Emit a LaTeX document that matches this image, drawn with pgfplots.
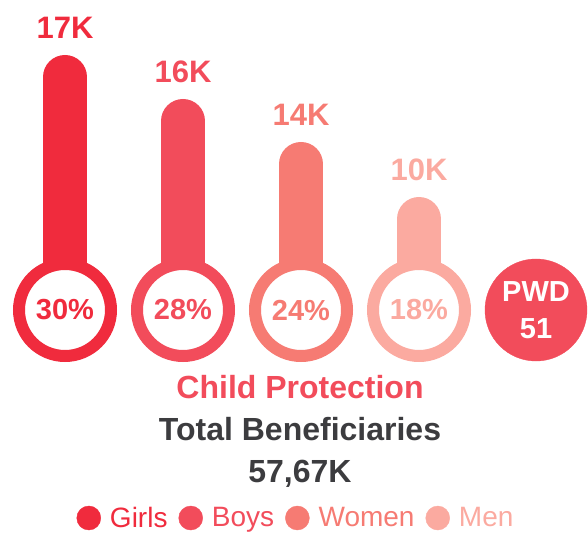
\documentclass[border=0pt]{standalone}
\usepackage{fontspec}
\setmainfont{Liberation Sans}
\usepackage{pgfplots}
\pgfplotsset{compat=1.18}

\definecolor{girls}{HTML}{F02B3D}
\definecolor{boys}{HTML}{F24C5B}
\definecolor{women}{HTML}{F67B73}
\definecolor{men}{HTML}{FBAAA0}
\definecolor{darktext}{HTML}{3C3C3F}

% one unit = 1pt; bar tops are where the picture puts them
% (ring centre y = 226, stem = round-capped thick line)
\pgfplotsset{
  stem/.style={forget plot, line width=44pt, line cap=round, mark=none},
  ring/.style={forget plot, only marks, mark=*, mark size=46pt,
    mark options={line width=12pt},
    scatter/use mapped color={draw=#1, fill=white},
    nodes near coords*={\pgfplotspointmeta\%}, every node near coord/.style={anchor=center,
      font=\fontsize{29}{34}\selectfont\bfseries, text=#1}},
  toplabel/.style={forget plot, only marks, mark=text, text mark={},
    scatter/use mapped color={},
    nodes near coords*={\pgfplotspointmeta K}, every node near coord/.style={anchor=base, yshift=38pt,
      font=\fontsize{31}{36}\selectfont\bfseries, text=#1}},
}

\begin{document}
\begin{tikzpicture}
\begin{axis}[
    hide axis,
    scale only axis,
    width=588pt, height=536pt,
    xmin=0, xmax=588, ymin=0, ymax=536,
    clip=false,
    point meta=explicit symbolic,
    legend columns=4,
    legend style={draw=none, fill=none, at={(axis cs:295,18)}, anchor=center,
      font=\fontsize{28}{32}\selectfont, nodes={inner sep=0pt},
      column sep=9pt, /tikz/every even column/.append style={column sep=11pt}},
]
% Girls 17K, 30%
\addplot[stem, girls] coordinates {(65,226) (65,459)};
\addplot[ring=girls] coordinates {(65,226) [30]};
\addplot[toplabel=girls] coordinates {(65,459) [17]};
% Boys 16K, 28%
\addplot[stem, boys] coordinates {(183,226) (183,415)};
\addplot[ring=boys] coordinates {(183,226) [28]};
\addplot[toplabel=boys] coordinates {(183,415) [16]};
% Women 14K, 24%
\addplot[stem, women] coordinates {(301,226) (301,372)};
\addplot[ring=women] coordinates {(301,226) [24]};
\addplot[toplabel=women] coordinates {(301,372) [14]};
% Men 10K, 18%
\addplot[stem, men] coordinates {(419,226) (419,317)};
\addplot[ring=men] coordinates {(419,226) [18]};
\addplot[toplabel=men] coordinates {(419,317) [10]};
% PWD 51
\addplot[forget plot, only marks, mark=*, mark size=51pt,
  scatter/use mapped color={draw=boys, fill=boys},
  nodes near coords*={PWD\\\pgfplotspointmeta}, every node near coord/.style={anchor=center, align=center,
    font=\fontsize{29}{37}\selectfont\bfseries, text=white}]
  coordinates {(536,226) [51]};

\node[anchor=base, text=boys, font=\fontsize{32}{38}\selectfont\bfseries]
  at (axis cs:300,138) {Child Protection};
\node[anchor=base, text=darktext, font=\fontsize{32}{38}\selectfont\bfseries]
  at (axis cs:300,96) {Total Beneficiaries};
\node[anchor=base, text=darktext, font=\fontsize{32}{38}\selectfont\bfseries]
  at (axis cs:300,54) {57,67K};

\addlegendimage{legend image code/.code={\fill[girls] (0pt,0pt) circle (12pt);}}
\addlegendentry{\textcolor{girls}{Girls}}
\addlegendimage{legend image code/.code={\fill[boys] (0pt,0pt) circle (12pt);}}
\addlegendentry{\textcolor{boys}{Boys}}
\addlegendimage{legend image code/.code={\fill[women] (0pt,0pt) circle (12pt);}}
\addlegendentry{\textcolor{women}{Women}}
\addlegendimage{legend image code/.code={\fill[men] (0pt,0pt) circle (12pt);}}
\addlegendentry{\textcolor{men}{Men}}

\coordinate (ll) at (rel axis cs:0,0);
\coordinate (ur) at (rel axis cs:1,1);
\end{axis}
\pgfresetboundingbox
\path (ll) rectangle (ur);
\end{tikzpicture}
\end{document}
